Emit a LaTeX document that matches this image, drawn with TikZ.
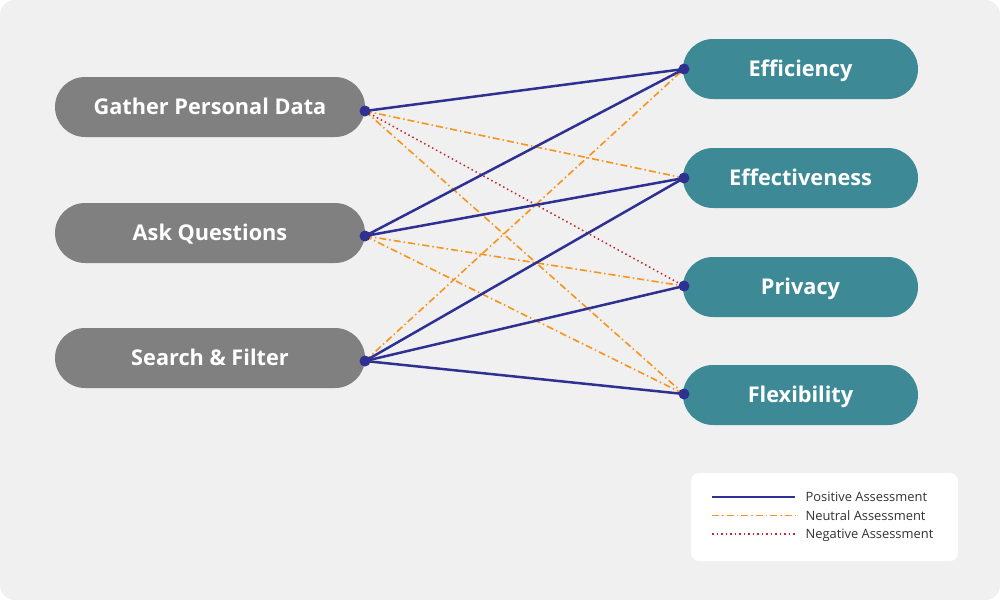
\documentclass[tikz,border=0pt]{standalone}
\usepackage{fontspec}
\setmainfont{Open Sans}
\usepackage{tikz}

\definecolor{bgcol}{HTML}{F0F0F0}
\definecolor{taskcol}{HTML}{808080}
\definecolor{goalcol}{HTML}{3D8A96}
\definecolor{poscol}{HTML}{2E3192}
\definecolor{neucol}{HTML}{F7941D}
\definecolor{negcol}{HTML}{C1272D}

\begin{document}
\begin{tikzpicture}[
  x=1pt,
  y=-1pt, % <-- pixel grid, y downwards
  task/.style={fill=taskcol, text=white, rounded corners=30pt,
    minimum width=310pt, minimum height=60pt, inner sep=0pt,
    text height=15.6pt, text depth=0pt,
    font=\fontsize{21.7}{24}\selectfont\bfseries},
  goal/.style={task, fill=goalcol, minimum width=235pt},
  dot/.style={circle, fill=poscol, minimum size=11pt, inner sep=0pt},
  posline/.style={poscol, line width=2.5pt},
  neuline/.style={neucol, line width=1.6pt, dash pattern=on 7pt off 3pt on 1.5pt off 3pt},
  negline/.style={negcol, line width=1.5pt, dash pattern=on 1.5pt off 3pt},
  every node/.style={font=\fontsize{12.9}{15}\selectfont}
]
\useasboundingbox (0,0) rectangle (1000,600);

% Background
\fill[bgcol, rounded corners=15pt] (0,0) rectangle (1000,600);

% Tasks (left)
\node[task] (gather) at (210,107) {Gather Personal Data};
\node[task] (ask)    at (210,233) {Ask Questions};
\node[task] (search) at (210,358) {Search \& Filter};

% Goals (right)
\node[goal] (effi) at (800.5,69)  {Efficiency};
\node[goal] (effe) at (800.5,178) {Effectiveness};
\node[goal] (priv) at (800.5,287) {Privacy};
\node[goal] (flex) at (800.5,395) {Flexibility};

% Connection points
\coordinate (g) at (365,111);
\coordinate (a) at (365,236);
\coordinate (s) at (365,361);
\coordinate (e1) at (684,69);
\coordinate (e2) at (684,178);
\coordinate (p)  at (684,286);
\coordinate (f)  at (684,394);

% --- Neutral / negative ---
\draw[neuline] (g) -- (e2);
\draw[neuline] (g) -- (f);
\draw[negline] (g) -- (p);
\draw[neuline] (a) -- (p);
\draw[neuline] (a) -- (f);
\draw[neuline] (s) -- (e1);

% --- Positive ---
\draw[posline] (g) -- (e1);
\draw[posline] (a) -- (e1);
\draw[posline] (a) -- (e2);
\draw[posline] (s) -- (e2);
\draw[posline] (s) -- (p);
\draw[posline] (s) -- (f);

% Dots
\foreach \c in {g,a,s,e1,e2,p,f}
  \node[dot] at (\c) {};

% --- Legend ---
\fill[white, rounded corners=8pt] (691,473) rectangle (958,561);
\draw[posline, line width=2pt] (712,497) -- (795,497);
\draw[neuline] (712,515.5) -- (795,515.5);
\draw[negline] (712,534) -- (795,534);
\foreach \y/\t in {497/Positive, 515.5/Neutral, 534/Negative}
  \node[anchor=west, text=black!80, text height=9.3pt, text depth=0pt]
    at (802,\y) {\t{} Assessment};

\end{tikzpicture}
\end{document}
